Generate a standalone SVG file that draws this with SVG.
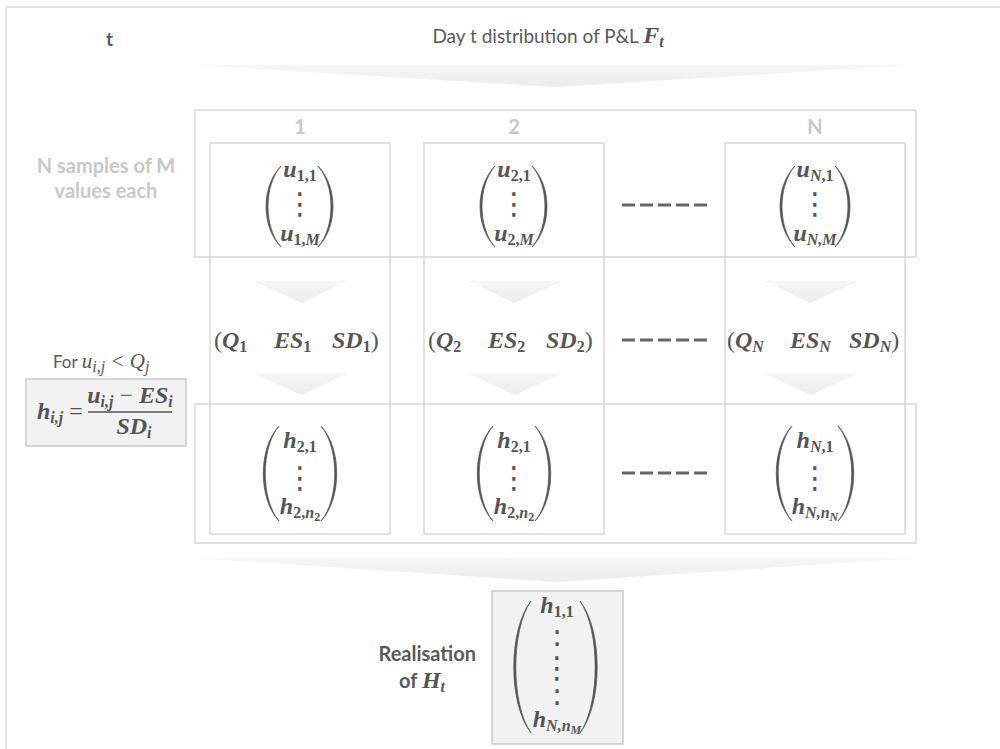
<svg xmlns="http://www.w3.org/2000/svg" width="1000" height="749" viewBox="0 0 1000 749">
  <defs>
    <style>
      .m { font-family: "Liberation Serif", "DejaVu Serif", serif; font-weight: bold; font-style: italic; font-size: 24px; fill: #555; }
      .mi { font-family: "Liberation Serif", "DejaVu Serif", serif; font-style: italic; font-size: 21px; fill: #555; }
      .s { font-size: 16px; }
      .ss { font-size: 12px; }
      .up { font-style: normal; }
      .rg { font-weight: normal; font-style: normal; }
      .dots { font-family: "DejaVu Sans", sans-serif; font-size: 30px; fill: #555; text-anchor: middle; }
      .lbl { font-family: Lato, "Liberation Sans", sans-serif; fill: #595959; }
      .head { font-family: Lato, "Liberation Sans", sans-serif; font-weight: bold; font-size: 20px; fill: #c8c8c8; text-anchor: middle; }
      .frame { fill: none; stroke: #d2d2d2; stroke-width: 1.3; }
      .shade { fill: #f2f2f2; stroke: #c4c4c4; stroke-width: 1.3; }
      .paren { fill: #555; stroke: #555; stroke-width: 0.7; stroke-linejoin: round; }
      .chev { fill: url(#chevFill); }
      .dash { stroke: #666; stroke-width: 3; stroke-dasharray: 13 5; }
      .mid { text-anchor: middle; }
    </style>
    <linearGradient id="chevFill" x1="0" y1="0" x2="0" y2="1">
      <stop offset="0" stop-color="#f6f6f6"/>
      <stop offset="1" stop-color="#ececec"/>
    </linearGradient>
    <!-- tall matrix delimiters (left form; mirrored for the right side) -->
    <path id="parU" class="paren" d="M0,0 C-20,20 -20,61 0,81 C-17.3,61 -17.3,20 0,0 Z"/>
    <path id="parH" class="paren" d="M0,0 C-21,22 -21,73 0,95 C-18.3,73 -18.3,22 0,0 Z"/>
    <path id="parR" class="paren" d="M0,0 C-23,29 -23,103 0,132 C-20.2,103 -20.2,29 0,0 Z"/>
  </defs>

  <rect width="1000" height="749" fill="#ffffff"/>
  <!-- page frame -->
  <path d="M6,749 V7 H1000" fill="none" stroke="#e4e4e4" stroke-width="2"/>

  <!-- headings -->
  <g id="time-label">
    <text class="lbl" x="106" y="46" font-size="19" font-weight="bold">t</text>
  </g>
  <g id="title">
    <text class="lbl mid" x="548" y="43" font-size="19">Day t distribution of P&amp;L <tspan class="m">F</tspan><tspan class="m s" dy="4">t</tspan></text>
  </g>

  <!-- flow arrows -->
  <g id="connectors">
    <polygon class="chev" points="195,65 913,65 554,87"/>
    <polygon class="chev" points="195,558 916,558 556,582"/>
    <polygon class="chev" points="254,281 348,281 301,303"/>
    <polygon class="chev" points="468,281 562,281 515,303"/>
    <polygon class="chev" points="764,281 858,281 811,303"/>
    <polygon class="chev" points="254,373 348,373 301,395"/>
    <polygon class="chev" points="468,373 562,373 515,395"/>
    <polygon class="chev" points="764,373 858,373 811,395"/>
  </g>

  <!-- sample block and result block -->
  <g id="samples-frame">
    <rect class="frame" x="195" y="110" width="721" height="147"/>
    <text class="head" x="300" y="134">1</text>
    <text class="head" x="514" y="134">2</text>
    <text class="head" x="815" y="134">N</text>
  </g>
  <g id="h-frame">
    <rect class="frame" x="195" y="404" width="721" height="139"/>
  </g>

  <g id="samples-label">
    <text class="head" x="106" y="173">N samples of M</text>
    <text class="head" x="106" y="198">values each</text>
  </g>

  <!-- column 1 -->
  <g id="col-1">
    <rect class="frame" x="210" y="143" width="180" height="391"/>
    <use href="#parU" transform="translate(281,166)"/>
    <use href="#parU" transform="translate(318,166) scale(-1,1)"/>
    <text class="m mid" x="300" y="177">u<tspan class="s up" dy="4">1,1</tspan></text>
    <text class="dots" x="300" y="214">⋮</text>
    <text class="m mid" x="300" y="241">u<tspan class="s" dy="4"><tspan class="up">1,</tspan>M</tspan></text>

    <text class="m" x="214" y="348"><tspan class="rg">(</tspan>Q<tspan class="s up" dy="4">1</tspan></text>
    <text class="m" x="274" y="348">ES<tspan class="s up" dy="4">1</tspan></text>
    <text class="m" x="332" y="348">SD<tspan class="s up" dy="4">1</tspan><tspan class="rg" dy="-4">)</tspan></text>

    <use href="#parH" transform="translate(279,426)"/>
    <use href="#parH" transform="translate(321,426) scale(-1,1)"/>
    <text class="m mid" x="300" y="448">h<tspan class="s up" dy="4">2,1</tspan></text>
    <text class="dots" x="300" y="488">⋮</text>
    <text class="m mid" x="300" y="514">h<tspan class="s" dy="4"><tspan class="up">2,</tspan>n</tspan><tspan class="ss up" dy="3">2</tspan></text>
  </g>

  <!-- column 2 -->
  <g id="col-2">
    <rect class="frame" x="424" y="143" width="180" height="391"/>
    <use href="#parU" transform="translate(495,166)"/>
    <use href="#parU" transform="translate(532,166) scale(-1,1)"/>
    <text class="m mid" x="514" y="177">u<tspan class="s up" dy="4">2,1</tspan></text>
    <text class="dots" x="514" y="214">⋮</text>
    <text class="m mid" x="514" y="241">u<tspan class="s" dy="4"><tspan class="up">2,</tspan>M</tspan></text>

    <text class="m" x="428" y="348"><tspan class="rg">(</tspan>Q<tspan class="s up" dy="4">2</tspan></text>
    <text class="m" x="488" y="348">ES<tspan class="s up" dy="4">2</tspan></text>
    <text class="m" x="546" y="348">SD<tspan class="s up" dy="4">2</tspan><tspan class="rg" dy="-4">)</tspan></text>

    <use href="#parH" transform="translate(493,426)"/>
    <use href="#parH" transform="translate(535,426) scale(-1,1)"/>
    <text class="m mid" x="514" y="448">h<tspan class="s up" dy="4">2,1</tspan></text>
    <text class="dots" x="514" y="488">⋮</text>
    <text class="m mid" x="514" y="514">h<tspan class="s" dy="4"><tspan class="up">2,</tspan>n</tspan><tspan class="ss up" dy="3">2</tspan></text>
  </g>

  <!-- ellipsis between column 2 and column N -->
  <g id="gap">
    <line class="dash" x1="622" y1="205" x2="707" y2="205"/>
    <line class="dash" x1="622" y1="340" x2="707" y2="340"/>
    <line class="dash" x1="622" y1="473" x2="707" y2="473"/>
  </g>

  <!-- column N -->
  <g id="col-N">
    <rect class="frame" x="725" y="143" width="180" height="391"/>
    <use href="#parU" transform="translate(795,166)"/>
    <use href="#parU" transform="translate(835,166) scale(-1,1)"/>
    <text class="m mid" x="815" y="177">u<tspan class="s" dy="4">N<tspan class="up">,1</tspan></tspan></text>
    <text class="dots" x="815" y="214">⋮</text>
    <text class="m mid" x="815" y="241">u<tspan class="s" dy="4">N,M</tspan></text>

    <text class="m" x="727" y="348"><tspan class="rg">(</tspan>Q<tspan class="s" dy="4">N</tspan></text>
    <text class="m" x="790" y="348">ES<tspan class="s" dy="4">N</tspan></text>
    <text class="m" x="849" y="348">SD<tspan class="s" dy="4">N</tspan><tspan class="rg" dy="-4">)</tspan></text>

    <use href="#parH" transform="translate(792,426)"/>
    <use href="#parH" transform="translate(838,426) scale(-1,1)"/>
    <text class="m mid" x="815" y="448">h<tspan class="s" dy="4">N<tspan class="up">,1</tspan></tspan></text>
    <text class="dots" x="815" y="488">⋮</text>
    <text class="m mid" x="815" y="514">h<tspan class="s" dy="4">N,n</tspan><tspan class="ss" dy="3">N</tspan></text>
  </g>

  <!-- transformation rule -->
  <g id="rule">
    <text class="lbl" x="53" y="368" font-size="17">For <tspan class="mi">u</tspan><tspan class="mi s" dy="4">i,j</tspan><tspan class="mi" dy="-4"> &lt; Q</tspan><tspan class="mi s" dy="4">j</tspan></text>
    <rect class="shade" x="26" y="379" width="160" height="67"/>
    <text class="m" x="37" y="419">h<tspan class="s" dy="4">i,j</tspan><tspan class="rg" dy="-4"> =</tspan></text>
    <line x1="88" y1="412" x2="172" y2="412" stroke="#555" stroke-width="1.3"/>
    <text class="m mid" x="130" y="403">u<tspan class="s" dy="4">i,j</tspan><tspan class="rg" dy="-4"> − </tspan>ES<tspan class="s" dy="4">i</tspan></text>
    <text class="m mid" x="134" y="434">SD<tspan class="s" dy="4">i</tspan></text>
  </g>

  <!-- realisation -->
  <g id="realisation">
    <text class="lbl" x="476" y="661" font-size="20" font-weight="bold" text-anchor="end">Realisation</text>
    <text class="lbl" x="399" y="688" font-size="20" font-weight="bold">of <tspan class="m">H</tspan><tspan class="m s" dy="4">t</tspan></text>
    <rect class="shade" x="492" y="591" width="131" height="153"/>
    <use href="#parR" transform="translate(531,601)"/>
    <use href="#parR" transform="translate(580,601) scale(-1,1)"/>
    <text class="m mid" x="557" y="613">h<tspan class="s up" dy="4">1,1</tspan></text>
    <text class="dots" x="557" y="646" font-size="13">:</text>
    <text class="dots" x="557" y="678" font-size="22">⋮</text>
    <text class="dots" x="557" y="705" font-size="13">:</text>
    <text class="m mid" x="557" y="727">h<tspan class="s" dy="4">N,n</tspan><tspan class="ss" dy="3">M</tspan></text>
  </g>
</svg>
